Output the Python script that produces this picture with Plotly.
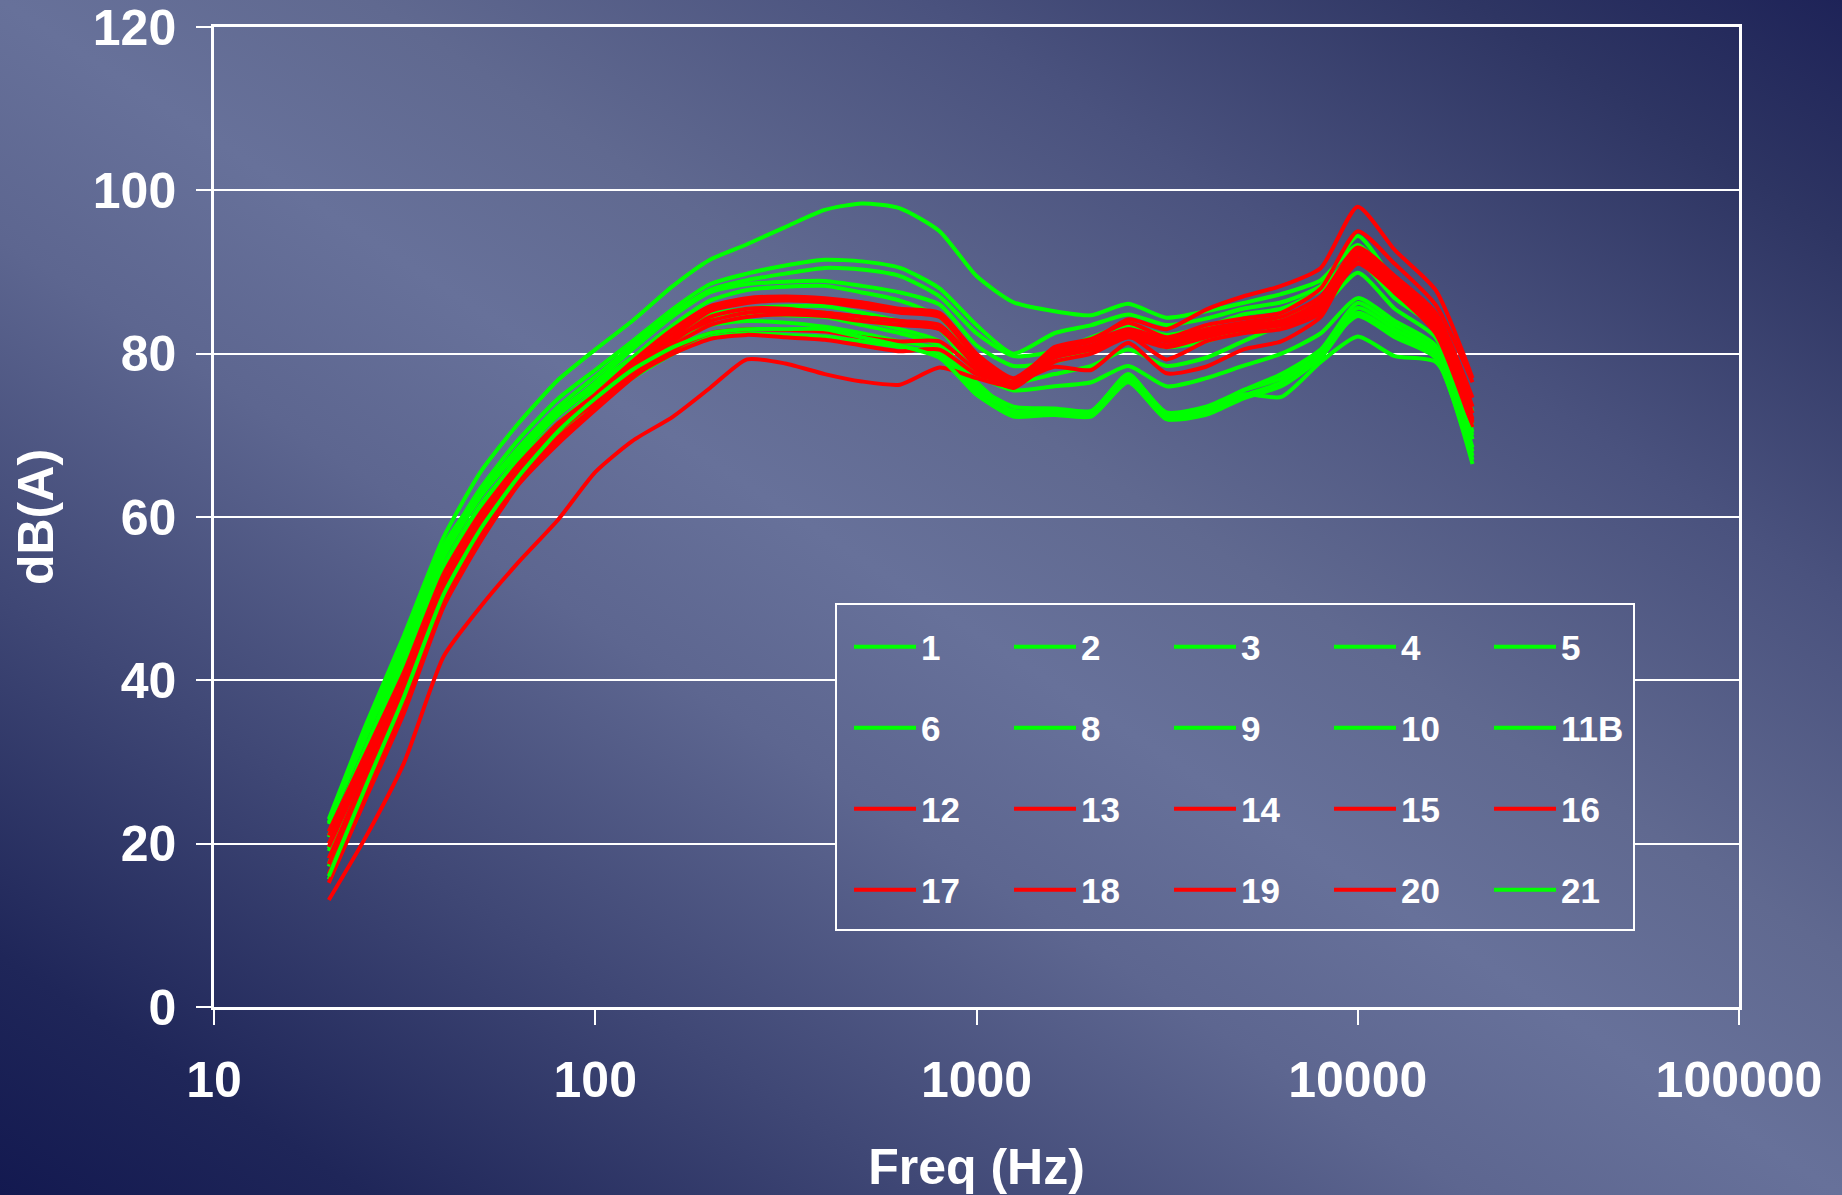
import base64
import plotly.graph_objects as go

# ---------------- data ----------------
freq_hz = [20, 25, 31.5, 40, 50, 63, 80, 100, 125, 160, 200, 250, 315, 400, 500, 630,
           800, 1000, 1250, 1600, 2000, 2500, 3150, 4000, 5000, 6300, 8000, 10000,
           12500, 16000, 20000]

db_1 = [23.0, 34.5, 45.5, 57.5, 65.5, 71.5, 76.8, 80.5, 84.0, 88.3, 91.5, 93.4, 95.5, 97.6, 98.4, 97.8,
        95.0, 89.5, 86.3, 85.2, 84.7, 86.1, 84.4, 85.2, 86.2, 87.3, 89.0, 93.3, 88.5, 83.5, 71.5]
db_2 = [22.4, 33.0, 44.0, 56.0, 63.5, 69.5, 74.5, 78.0, 81.5, 85.5, 88.5, 89.8, 90.8, 91.5, 91.3, 90.5,
        88.0, 83.5, 80.0, 82.5, 83.5, 84.8, 83.5, 84.3, 85.5, 86.3, 88.3, 94.4, 88.8, 84.0, 72.9]
db_3 = [20.8, 31.5, 43.0, 55.0, 62.5, 68.5, 73.5, 77.2, 81.0, 85.0, 87.8, 89.0, 89.8, 90.5, 90.3, 89.5,
        87.0, 82.5, 79.7, 80.3, 82.0, 83.5, 82.3, 83.3, 84.8, 85.5, 87.8, 92.5, 87.5, 83.5, 71.0]
db_4 = [19.1, 30.0, 41.5, 53.5, 61.0, 67.5, 72.5, 76.5, 80.5, 84.6, 87.5, 88.5, 88.8, 88.9, 88.3, 87.5,
        86.0, 81.0, 78.5, 79.0, 80.5, 82.5, 80.8, 81.5, 83.0, 84.5, 86.5, 91.3, 86.8, 83.0, 70.4]
db_5 = [17.2, 28.0, 39.0, 51.5, 59.5, 66.0, 71.5, 75.5, 79.5, 83.5, 86.5, 87.8, 88.2, 88.3, 87.5, 86.5,
        84.5, 79.5, 76.5, 77.5, 78.5, 80.5, 78.5, 79.5, 81.5, 83.5, 85.5, 89.9, 85.5, 82.0, 69.5]
db_6 = [15.6, 26.5, 37.0, 50.0, 58.0, 64.5, 70.0, 74.0, 78.0, 82.0, 84.8, 85.5, 85.8, 85.8, 85.0, 84.0,
        83.0, 77.5, 75.5, 76.0, 76.5, 78.5, 76.0, 77.0, 78.5, 80.0, 82.5, 86.8, 84.0, 81.0, 68.5]
db_8 = [22.6, 33.5, 44.5, 56.5, 63.0, 68.5, 73.0, 76.3, 79.5, 82.5, 84.5, 85.2, 85.3, 85.0, 84.2, 83.0,
        81.5, 76.0, 73.5, 73.3, 73.0, 77.3, 72.8, 73.5, 75.5, 77.5, 80.5, 86.2, 83.5, 80.5, 68.0]
db_9 = [19.4, 30.5, 42.0, 54.0, 61.5, 67.0, 71.5, 75.0, 78.5, 81.5, 83.5, 84.0, 83.8, 83.3, 82.5, 81.5,
        80.5, 75.5, 73.0, 72.8, 72.6, 77.0, 72.3, 72.8, 74.8, 76.5, 80.0, 85.6, 83.0, 80.0, 67.5]
db_10 = [17.5, 28.5, 40.0, 52.5, 60.0, 65.5, 70.0, 73.5, 77.0, 80.0, 82.0, 82.5, 82.3, 82.1, 81.5, 80.8,
         80.0, 75.0, 72.5, 72.5, 72.3, 76.5, 72.0, 72.5, 74.5, 76.0, 79.5, 85.0, 82.5, 79.5, 67.0]
db_11b = [21.0, 31.8, 43.0, 55.5, 62.5, 68.0, 72.5, 76.0, 79.3, 82.5, 84.3, 84.8, 84.7, 84.5, 83.5, 82.5,
          81.0, 76.5, 72.8, 73.0, 72.8, 77.5, 72.5, 73.2, 75.5, 77.0, 80.5, 84.6, 82.0, 79.5, 66.5]
db_12 = [21.5, 31.0, 41.0, 53.0, 60.5, 66.5, 71.5, 75.0, 79.0, 83.0, 85.8, 86.8, 87.0, 86.8, 86.3, 85.5,
         85.0, 80.0, 77.0, 80.5, 81.5, 84.2, 83.0, 85.4, 87.0, 88.3, 90.5, 98.0, 92.7, 87.8, 77.0]
db_13 = [19.6, 29.5, 40.0, 52.0, 59.5, 66.0, 71.0, 74.5, 78.5, 82.5, 85.5, 86.5, 86.8, 86.5, 86.0, 85.3,
         84.8, 79.8, 76.5, 80.8, 81.8, 83.8, 82.0, 83.5, 84.3, 85.0, 88.0, 95.0, 91.0, 86.0, 76.5]
db_14 = [18.2, 28.5, 39.0, 51.5, 59.0, 65.5, 70.5, 74.2, 78.0, 82.0, 85.2, 86.2, 86.5, 86.3, 85.7, 85.0,
         84.5, 79.5, 76.2, 80.5, 81.5, 83.0, 81.8, 83.0, 83.8, 84.5, 87.0, 93.0, 89.5, 85.0, 74.6]
db_15 = [21.0, 30.5, 40.5, 52.5, 60.0, 66.0, 70.8, 74.0, 77.8, 81.5, 84.5, 85.5, 85.5, 85.0, 84.5, 84.0,
         83.5, 79.0, 76.0, 80.0, 81.0, 82.8, 81.5, 82.8, 83.5, 84.0, 86.5, 92.7, 89.0, 84.5, 73.5]
db_16 = [16.3, 26.5, 37.0, 50.0, 57.5, 64.5, 69.5, 73.5, 77.3, 81.0, 83.5, 84.5, 84.8, 84.6, 84.0, 83.5,
         83.0, 78.5, 76.0, 79.8, 80.8, 82.5, 81.0, 82.5, 83.3, 83.8, 86.0, 92.5, 88.5, 84.0, 72.7]
db_17 = [15.2, 25.5, 36.0, 49.0, 57.0, 64.0, 69.0, 73.1, 77.0, 80.5, 82.5, 83.0, 82.9, 82.7, 82.0, 81.5,
         81.5, 78.0, 75.8, 79.5, 80.5, 82.0, 80.8, 82.0, 83.0, 83.5, 85.5, 92.2, 88.0, 83.5, 72.0]
db_18 = [17.5, 27.5, 38.0, 50.5, 58.0, 64.8, 69.8, 73.5, 77.2, 80.0, 81.8, 82.3, 82.0, 81.7, 81.0, 80.3,
         80.5, 77.5, 76.5, 78.4, 78.0, 81.3, 77.6, 78.4, 80.5, 81.5, 84.5, 92.0, 88.0, 83.0, 71.7]
db_19 = [20.0, 29.8, 39.8, 52.0, 59.5, 65.5, 70.5, 74.3, 78.2, 81.8, 84.0, 85.0, 85.2, 85.0, 84.5, 84.0,
         83.0, 79.0, 76.3, 80.0, 80.5, 82.2, 79.3, 81.5, 82.5, 83.0, 85.0, 91.5, 87.5, 83.0, 71.5]
db_20 = [13.1, 20.8, 29.9, 42.9, 49.0, 54.5, 59.7, 65.5, 69.3, 72.3, 75.8, 79.3, 78.8, 77.5, 76.6, 76.2,
         78.3, 77.0, 76.0, 79.0, 80.0, 82.0, 81.0, 82.3, 83.0, 83.5, 85.5, 91.0, 87.5, 82.5, 71.0]
db_21 = [16.0, 27.0, 38.0, 50.5, 58.5, 65.0, 70.5, 74.5, 78.0, 80.8, 82.5, 83.0, 83.0, 83.0, 82.0, 81.0,
         79.5, 75.0, 72.3, 72.6, 72.5, 76.8, 72.0, 73.0, 75.0, 74.7, 79.0, 82.1, 79.7, 79.0, 70.0]

series_labels = ["1", "2", "3", "4", "5", "6", "8", "9", "10", "11B",
                 "12", "13", "14", "15", "16", "17", "18", "19", "20", "21"]
series_values = [db_1, db_2, db_3, db_4, db_5, db_6, db_8, db_9, db_10, db_11b,
                 db_12, db_13, db_14, db_15, db_16, db_17, db_18, db_19, db_20, db_21]
red_series = {"12", "13", "14", "15", "16", "17", "18", "19", "20"}

x_tick_values = [10, 100, 1000, 10000, 100000]
x_tick_labels = ["10", "100", "1000", "10000", "100000"]
y_tick_values = [0, 20, 40, 60, 80, 100, 120]
x_title = "Freq (Hz)"
y_title = "dB(A)"

# ---------------- style / layout ----------------
W, H = 1842, 1195
ML, MR, MT, MB = 214, 103, 27, 188
PW, PH = W - ML - MR, H - MT - MB

GREEN = "#00ff00"
RED = "#ff0000"
TICK_FONT = dict(family="Liberation Sans, Arial, sans-serif", size=50, color="white", weight="bold")
TITLE_FONT = dict(family="Liberation Sans, Arial, sans-serif", size=50, color="white", weight="bold")
LEG_FONT = dict(family="Liberation Sans Narrow, Arial Narrow, Liberation Sans, Arial", size=35,
                color="white", weight="bold")

STOPS = [(0.00, "#131950"), (0.10, "#1f2659"), (0.25, "#3f4775"), (0.40, "#5d6690"),
         (0.50, "#67719a"), (0.60, "#606990"), (0.75, "#4a527e"), (0.90, "#2e3563"),
         (1.00, "#1e2358")]


def gradient_uri(vx, vy, vw, vh):
    stops = "".join(f'<stop offset="{o}" stop-color="{c}"/>' for o, c in STOPS)
    svg = (f'<svg xmlns="http://www.w3.org/2000/svg" width="{vw}" height="{vh}" '
           f'viewBox="{vx} {vy} {vw} {vh}" preserveAspectRatio="none">'
           f'<defs><linearGradient id="g" x1="0" y1="1" x2="1" y2="0">{stops}</linearGradient></defs>'
           f'<rect x="0" y="0" width="{W}" height="{H}" fill="url(#g)"/></svg>')
    return "data:image/svg+xml;base64," + base64.b64encode(svg.encode()).decode()


def px_to_paper_x(px):
    return (px - ML) / PW


def px_to_paper_y(py):
    return (MT + PH - py) / PH


def image_at(vx, vy, vw, vh, layer):
    return dict(source=gradient_uri(vx, vy, vw, vh), xref="paper", yref="paper",
                x=px_to_paper_x(vx), y=px_to_paper_y(vy), sizex=vw / PW, sizey=vh / PH,
                xanchor="left", yanchor="top", sizing="stretch", layer=layer)


# legend frame in pixels
LX0, LY0, LX1, LY1 = 836, 604, 1634, 930
ROW_Y = [647, 728, 809, 890]
LEG_X = 849
legend_keys = ["legend", "legend2", "legend3", "legend4"]

fig = go.Figure()
for i, (name, vals) in enumerate(zip(series_labels, series_values)):
    fig.add_trace(go.Scatter(
        x=freq_hz, y=vals, name=name, mode="lines",
        line=dict(color=RED if name in red_series else GREEN, width=4,
                  shape="spline", smoothing=0.6),
        legend=legend_keys[i // 5], hoverinfo="skip"))

layout_legends = {}
for k, key in enumerate(legend_keys):
    layout_legends[key] = dict(
        orientation="h", x=px_to_paper_x(LEG_X), xanchor="left",
        y=px_to_paper_y(ROW_Y[k]), yanchor="middle",
        bgcolor="rgba(0,0,0,0)", borderwidth=0, font=LEG_FONT,
        itemwidth=62, entrywidth=83, entrywidthmode="pixels",
        traceorder="normal", itemclick=False, itemdoubleclick=False)

fig.update_layout(
    width=W, height=H,
    margin=dict(l=ML, r=MR, t=MT, b=MB, autoexpand=False),
    paper_bgcolor="#4a527e", plot_bgcolor="rgba(0,0,0,0)",
    showlegend=True,
    images=[image_at(0, 0, W, H, "below"),
            image_at(LX0, LY0, LX1 - LX0, LY1 - LY0, "above")],
    shapes=[dict(type="rect", xref="paper", yref="paper",
                 x0=px_to_paper_x(LX0), x1=px_to_paper_x(LX1),
                 y0=px_to_paper_y(LY1), y1=px_to_paper_y(LY0),
                 line=dict(color="white", width=2), fillcolor="rgba(0,0,0,0)", layer="above")],
    xaxis=dict(type="log", range=[1, 5], tickvals=x_tick_values, ticktext=x_tick_labels,
               showgrid=False, zeroline=False, showline=True, linecolor="white", linewidth=2.5,
               mirror=True, ticks="outside", ticklen=15, tickwidth=2, tickcolor="white",
               tickfont=TICK_FONT, ticklabelstandoff=12, ticklabeloverflow="allow",
               automargin=False,
               title=dict(text=x_title, font=TITLE_FONT, standoff=50)),
    yaxis=dict(range=[0, 120], tickvals=y_tick_values, showgrid=True, gridcolor="white",
               gridwidth=2, zeroline=False, showline=True, linecolor="white", linewidth=2.5,
               mirror=True, ticks="outside", ticklen=15, tickwidth=2, tickcolor="white",
               tickfont=TICK_FONT, ticklabelstandoff=10, ticklabeloverflow="allow",
               automargin=False,
               title=dict(text=y_title, font=TITLE_FONT, standoff=24)),
    **layout_legends,
)

fig.write_html("out.html")
